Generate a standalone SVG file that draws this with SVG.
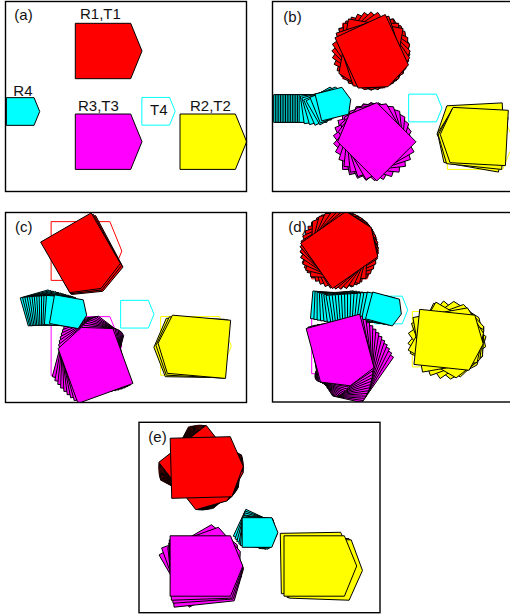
<svg xmlns="http://www.w3.org/2000/svg" xmlns:xlink="http://www.w3.org/1999/xlink" width="510" height="615" viewBox="0 0 510 615">
<style>
.r{fill:#ff0000;stroke:#000;stroke-width:1}
.m{fill:#ff00ff;stroke:#000;stroke-width:1}
.y{fill:#ffff00;stroke:#000;stroke-width:1}
.c{fill:#00ffff;stroke:#000;stroke-width:1}
.tr{fill:none;stroke:#ff0000;stroke-width:1}
.tm{fill:none;stroke:#ff00ff;stroke-width:1}
.ty{fill:none;stroke:#ffff00;stroke-width:1}
.tc{fill:none;stroke:#00ffff;stroke-width:1}
.frame{fill:none;stroke:#000;stroke-width:1.4}
text{font-family:"Liberation Sans",Arial,Helvetica,sans-serif;font-size:15px;fill:#111}
</style>
<defs>
<polygon id="P" points="-27.7,-27.7 27.7,-27.7 39,0 27.7,27.7 -27.7,27.7" vector-effect="non-scaling-stroke"/>
<polygon id="H" points="-13.85,-13.85 13.85,-13.85 19.5,0 13.85,13.85 -13.85,13.85" vector-effect="non-scaling-stroke"/>
<clipPath id="cb"><rect x="272.5" y="1.5" width="240" height="190"/></clipPath>
<clipPath id="cc"><rect x="5.5" y="212.5" width="241" height="190"/></clipPath>
<clipPath id="cd"><rect x="272.5" y="212.5" width="240" height="189.5"/></clipPath>
<clipPath id="ce"><rect x="139" y="422.3" width="241" height="190.4"/></clipPath>
</defs>

<!-- Panel (a) -->
<g id="panel-a">
<g id="a-R1"><use href="#P" class="r" transform="translate(103 51)"/></g>
<g id="a-R3"><use href="#P" class="m" transform="translate(103 141.7)"/></g>
<g id="a-R2"><use href="#P" class="y" transform="translate(207.7 141.7)"/></g>
<g id="a-R4"><use href="#H" class="c" transform="translate(20.2 111.5)"/></g>
<g id="a-T4"><use href="#H" class="tc" transform="translate(155.7 111.3)"/></g>
<rect class="frame" x="5.5" y="1.5" width="241" height="190"/>
<text x="14.3" y="20">(a)</text>
<text x="80" y="19.3">R1,T1</text>
<text x="13.3" y="96">R4</text>
<text x="78" y="111">R3,T3</text>
<text x="150" y="114.5">T4</text>
<text x="190" y="111">R2,T2</text>
</g>

<!-- Panel (b) -->
<g id="panel-b">
<g clip-path="url(#cb)">
<g id="b-targets">
<use href="#P" class="tr" transform="translate(370.3 51)"/>
<use href="#P" class="tm" transform="translate(370.3 141.7)"/>
<use href="#P" class="ty" transform="translate(475 141.7)"/>
<use href="#H" class="tc" transform="translate(422.5 108)"/>
</g>
<g id="b-R1">
<use href="#P" class="r" transform="translate(371 51) rotate(-10)"/>
<use href="#P" class="r" transform="translate(371 51) rotate(5)"/>
<use href="#P" class="r" transform="translate(371 51) rotate(15)"/>
<use href="#P" class="r" transform="translate(371 51) rotate(25)"/>
<use href="#P" class="r" transform="translate(371 51) rotate(35)"/>
<use href="#P" class="r" transform="translate(371 51) rotate(45)"/>
<use href="#P" class="r" transform="translate(371 51) rotate(55)"/>
<use href="#P" class="r" transform="translate(371 51) rotate(80)"/>
<use href="#P" class="r" transform="translate(371 51) rotate(90)"/>
<use href="#P" class="r" transform="translate(371 51) rotate(100)"/>
<use href="#P" class="r" transform="translate(371 51) rotate(72)"/>
<use href="#P" class="r" transform="translate(371.7 51.3) rotate(65.3)"/>
</g>
<g id="b-R2">
<use href="#P" class="y" transform="translate(476 132) rotate(177)"/>
<use href="#P" class="y" transform="translate(476 140) rotate(190)"/>
<use href="#P" class="y" transform="translate(477 139) rotate(186)"/>
<use href="#P" class="y" transform="translate(479.2 136.5) rotate(183)"/>
</g>
<g id="b-R3">
<use href="#P" class="m" transform="translate(370.3 141.7) rotate(0)"/>
<use href="#P" class="m" transform="translate(370.9 141.7) rotate(-12)"/>
<use href="#P" class="m" transform="translate(371.5 141.7) rotate(-24)"/>
<use href="#P" class="m" transform="translate(372.1 141.7) rotate(-36)"/>
<use href="#P" class="m" transform="translate(372.7 141.7) rotate(-48)"/>
<use href="#P" class="m" transform="translate(373.3 141.7) rotate(-60)"/>
<use href="#P" class="m" transform="translate(373.8 141.7) rotate(-72)"/>
<use href="#P" class="m" transform="translate(374.4 141.7) rotate(-84)"/>
<use href="#P" class="m" transform="translate(375 141.7) rotate(-96)"/>
<use href="#P" class="m" transform="translate(375.6 141.7) rotate(-108)"/>
<use href="#P" class="m" transform="translate(376.2 141.7) rotate(-120)"/>
<use href="#P" class="m" transform="translate(376.8 141.8) rotate(-135)"/>
</g>
<g id="b-R4">
<use href="#H" class="c" transform="translate(287.5 108.5)"/>
<use href="#H" class="c" transform="translate(289.2 108.5)"/>
<use href="#H" class="c" transform="translate(290.9 108.5)"/>
<use href="#H" class="c" transform="translate(292.6 108.5)"/>
<use href="#H" class="c" transform="translate(294.3 108.5)"/>
<use href="#H" class="c" transform="translate(296 108.5)"/>
<use href="#H" class="c" transform="translate(297.7 108.5)"/>
<use href="#H" class="c" transform="translate(299.4 108.5)"/>
<use href="#H" class="c" transform="translate(301.1 108.5)"/>
<use href="#H" class="c" transform="translate(302.8 108.5)"/>
<use href="#H" class="c" transform="translate(304.5 108.5)"/>
<use href="#H" class="c" transform="translate(306.2 108.5)"/>
<use href="#H" class="c" transform="translate(307.9 108.5)"/>
<use href="#H" class="c" transform="translate(309.6 108.5)"/>
<use href="#H" class="c" transform="translate(311.3 108.5)"/>
<use href="#H" class="c" transform="translate(313 108.5)"/>
<use href="#H" class="c" transform="translate(316 108) rotate(-8)"/>
<use href="#H" class="c" transform="translate(319 107.5) rotate(-16)"/>
<use href="#H" class="c" transform="translate(322 107) rotate(-24)"/>
<use href="#H" class="c" transform="translate(325 106) rotate(-30)"/>
<use href="#H" class="c" transform="translate(328 105) rotate(-22)"/>
<use href="#H" class="c" transform="translate(331.8 104.1) rotate(-14)"/>
</g>
</g>
<rect class="frame" x="272.5" y="1.5" width="245" height="190"/>
<text x="283.3" y="21.7">(b)</text>
</g>

<!-- Panel (c) -->
<g id="panel-c">
<g clip-path="url(#cc)">
<g id="c-targets">
<use href="#P" class="tr" transform="translate(80.5 251) scale(1.06)"/>
<use href="#P" class="tm" transform="translate(80.5 346) scale(1.06)"/>
<use href="#P" class="ty" transform="translate(190 345.9) scale(1.06)"/>
<use href="#H" class="tc" transform="translate(134.5 314.2)"/>
</g>
<g id="c-R1">
<use href="#P" class="r" transform="translate(83.5 255) rotate(62) scale(1.054)"/>
<use href="#P" class="r" transform="translate(82 254) rotate(61) scale(1.054)"/>
<use href="#P" class="r" transform="translate(80.5 252.8) rotate(60) scale(1.054)"/>
</g>
<g id="c-R2">
<use href="#P" class="y" transform="translate(195 348) rotate(181) scale(1.054)"/>
<use href="#P" class="y" transform="translate(197 347.5) rotate(183) scale(1.054)"/>
<use href="#P" class="y" transform="translate(199 346.8) rotate(185) scale(1.054)"/>
</g>
<g id="c-R3">
<use href="#P" class="m" transform="translate(88 356) rotate(-75) scale(1.054)"/>
<use href="#P" class="m" transform="translate(88.9 357.3) rotate(-79.4) scale(1.054)"/>
<use href="#P" class="m" transform="translate(89.9 358.5) rotate(-83.8) scale(1.054)"/>
<use href="#P" class="m" transform="translate(90.8 359.8) rotate(-88.1) scale(1.054)"/>
<use href="#P" class="m" transform="translate(91.8 361) rotate(-92.5) scale(1.054)"/>
<use href="#P" class="m" transform="translate(92.7 362.3) rotate(-96.9) scale(1.054)"/>
<use href="#P" class="m" transform="translate(93.6 363.5) rotate(-101.3) scale(1.054)"/>
<use href="#P" class="m" transform="translate(94.6 364.8) rotate(-105.6) scale(1.054)"/>
<use href="#P" class="m" transform="translate(95.5 366) rotate(-110) scale(1.054)"/>
</g>
<g id="c-R4">
<use href="#H" class="c" transform="translate(38.3 307.9) rotate(-16) scale(1.054)"/>
<use href="#H" class="c" transform="translate(40.3 308.2) rotate(-14.2) scale(1.054)"/>
<use href="#H" class="c" transform="translate(42.2 308.5) rotate(-12.4) scale(1.054)"/>
<use href="#H" class="c" transform="translate(44.2 308.7) rotate(-10.5) scale(1.054)"/>
<use href="#H" class="c" transform="translate(46.2 309) rotate(-8.7) scale(1.054)"/>
<use href="#H" class="c" transform="translate(48.2 309.3) rotate(-6.9) scale(1.054)"/>
<use href="#H" class="c" transform="translate(50.1 309.6) rotate(-5.1) scale(1.054)"/>
<use href="#H" class="c" transform="translate(52.1 309.9) rotate(-3.3) scale(1.054)"/>
<use href="#H" class="c" transform="translate(54.1 310.2) rotate(-1.5) scale(1.054)"/>
<use href="#H" class="c" transform="translate(56.1 310.4) rotate(0.4) scale(1.054)"/>
<use href="#H" class="c" transform="translate(58 310.7) rotate(2.2) scale(1.054)"/>
<use href="#H" class="c" transform="translate(60 311) rotate(4) scale(1.054)"/>
<use href="#H" class="c" transform="translate(66.4 311.7) rotate(10) scale(1.054)"/>
</g>
</g>
<rect class="frame" x="5.5" y="212.5" width="241" height="190"/>
<text x="15" y="231.7">(c)</text>
</g>

<!-- Panel (d) -->
<g id="panel-d">
<g clip-path="url(#cd)">
<g id="d-targets">
<use href="#P" class="tr" transform="translate(339.4 251.2)"/>
<use href="#P" class="tm" transform="translate(339.4 346)"/>
<use href="#P" class="ty" transform="translate(440 339.2)"/>
<use href="#H" class="tc" transform="translate(388.3 310)"/>
</g>
<g id="d-R1">
<use href="#P" class="r" transform="translate(339.2 250) rotate(0)"/>
<use href="#P" class="r" transform="translate(339.2 250) rotate(-8)"/>
<use href="#P" class="r" transform="translate(339.2 250) rotate(-16)"/>
<use href="#P" class="r" transform="translate(339.2 250) rotate(-24)"/>
<use href="#P" class="r" transform="translate(339.2 250) rotate(-32)"/>
<use href="#P" class="r" transform="translate(339.2 250) rotate(-40)"/>
<use href="#P" class="r" transform="translate(339.2 250) rotate(-48)"/>
<use href="#P" class="r" transform="translate(339.2 250) rotate(-56)"/>
<use href="#P" class="r" transform="translate(339.2 250) rotate(-64)"/>
<use href="#P" class="r" transform="translate(339.2 250) rotate(-72)"/>
<use href="#P" class="r" transform="translate(339.2 250) rotate(-80)"/>
<use href="#P" class="r" transform="translate(339.2 250) rotate(-88)"/>
<use href="#P" class="r" transform="translate(339.2 250) rotate(-76)"/>
<use href="#P" class="r" transform="translate(339.2 250) rotate(-66)"/>
<use href="#P" class="r" transform="translate(339.2 250) rotate(-56)"/>
<use href="#P" class="r" transform="translate(339.2 250) rotate(-47)"/>
<use href="#P" class="r" transform="translate(339.2 250) rotate(-40)"/>
<use href="#P" class="r" transform="translate(339.2 250) rotate(-35)"/>
</g>
<g id="d-R2">
<use href="#P" class="y" transform="translate(447 340) rotate(40)"/>
<use href="#P" class="y" transform="translate(447 340) rotate(-35)"/>
<use href="#P" class="y" transform="translate(447 340) rotate(25)"/>
<use href="#P" class="y" transform="translate(447 340) rotate(-20)"/>
<use href="#P" class="y" transform="translate(446 340) rotate(30)"/>
<use href="#P" class="y" transform="translate(445 340) rotate(-10)"/>
<use href="#P" class="y" transform="translate(444.4 339.8) rotate(6)"/>
</g>
<g id="d-R4">
<use href="#H" class="c" transform="translate(325.5 306) rotate(5)"/>
<use href="#H" class="c" transform="translate(328.3 306.1) rotate(2.5)"/>
<use href="#H" class="c" transform="translate(331 306.3) rotate(0)"/>
<use href="#H" class="c" transform="translate(333.8 306.4) rotate(-2.5)"/>
<use href="#H" class="c" transform="translate(336.6 306.5) rotate(-5)"/>
<use href="#H" class="c" transform="translate(339.3 306.7) rotate(-7.5)"/>
<use href="#H" class="c" transform="translate(342.1 306.8) rotate(-10)"/>
<use href="#H" class="c" transform="translate(344.8 306.9) rotate(-8.6)"/>
<use href="#H" class="c" transform="translate(347.6 307.1) rotate(-7.1)"/>
<use href="#H" class="c" transform="translate(350.4 307.2) rotate(-5.7)"/>
<use href="#H" class="c" transform="translate(353.1 307.3) rotate(-4.3)"/>
<use href="#H" class="c" transform="translate(355.9 307.4) rotate(-2.9)"/>
<use href="#H" class="c" transform="translate(358.7 307.6) rotate(-1.4)"/>
<use href="#H" class="c" transform="translate(361.4 307.7) rotate(0)"/>
<use href="#H" class="c" transform="translate(364.2 307.8) rotate(2)"/>
<use href="#H" class="c" transform="translate(366.9 308) rotate(4)"/>
<use href="#H" class="c" transform="translate(369.7 308.1) rotate(6)"/>
<use href="#H" class="c" transform="translate(372.5 308.2) rotate(8)"/>
<use href="#H" class="c" transform="translate(375.2 308.4) rotate(10)"/>
<use href="#H" class="c" transform="translate(378 308.5) rotate(12)"/>
<use href="#H" class="c" transform="translate(382.5 309) rotate(15)"/>
</g>
<g id="d-R3">
<use href="#P" class="m" transform="translate(355 364) rotate(125)"/>
<use href="#P" class="m" transform="translate(353.7 362.6) rotate(120.8)"/>
<use href="#P" class="m" transform="translate(352.4 361.2) rotate(116.5)"/>
<use href="#P" class="m" transform="translate(351.1 359.9) rotate(112.3)"/>
<use href="#P" class="m" transform="translate(349.8 358.5) rotate(108.1)"/>
<use href="#P" class="m" transform="translate(348.5 357.1) rotate(103.9)"/>
<use href="#P" class="m" transform="translate(347.1 355.7) rotate(99.6)"/>
<use href="#P" class="m" transform="translate(345.8 354.3) rotate(95.4)"/>
<use href="#P" class="m" transform="translate(344.5 352.9) rotate(91.2)"/>
<use href="#P" class="m" transform="translate(343.2 351.6) rotate(87)"/>
<use href="#P" class="m" transform="translate(341.9 350.2) rotate(82.7)"/>
<use href="#P" class="m" transform="translate(340.6 348.8) rotate(78.5)"/>
<use href="#P" class="m" transform="translate(340.1 348.1) rotate(75)"/>
</g>
</g>
<rect class="frame" x="272.5" y="212.5" width="245" height="189.5"/>
<text x="288.3" y="231.7">(d)</text>
</g>

<!-- Panel (e) -->
<g id="panel-e">
<g clip-path="url(#ce)">
<g id="e-R1">
<use href="#P" class="r" transform="translate(201 467.5) rotate(28) scale(1.085)"/>
<use href="#P" class="r" transform="translate(201 467.5) rotate(29.5) scale(1.085)"/>
<use href="#P" class="r" transform="translate(201 467.5) rotate(31) scale(1.085)"/>
<use href="#P" class="r" transform="translate(201 467.5) rotate(32.5) scale(1.085)"/>
<use href="#P" class="r" transform="translate(201 467.5) rotate(34) scale(1.085)"/>
<use href="#P" class="r" transform="translate(201 467.5) rotate(35.5) scale(1.085)"/>
<use href="#P" class="r" transform="translate(201 467.5) rotate(37) scale(1.085)"/>
<use href="#P" class="r" transform="translate(201 467.5) rotate(38.5) scale(1.085)"/>
<use href="#P" class="r" transform="translate(201 467.5) rotate(40) scale(1.085)"/>
<use href="#P" class="r" transform="translate(201 467.5) rotate(41.5) scale(1.085)"/>
<use href="#P" class="r" transform="translate(201 467.5) rotate(43) scale(1.085)"/>
<use href="#P" class="r" transform="translate(201 467.5) rotate(44.5) scale(1.085)"/>
<use href="#P" class="r" transform="translate(201 467.5) rotate(46) scale(1.085)"/>
<use href="#P" class="r" transform="translate(201 467.5) rotate(47.5) scale(1.085)"/>
<use href="#P" class="r" transform="translate(201 467.5) rotate(49) scale(1.085)"/>
<use href="#P" class="r" transform="translate(201 467.5) rotate(50.5) scale(1.085)"/>
<use href="#P" class="r" transform="translate(201 467.5) rotate(52) scale(1.085)"/>
<use href="#P" class="r" transform="translate(201 467.5) rotate(-1.5) scale(1.085)"/>
</g>
<g id="e-R2">
<use href="#P" class="y" transform="translate(311 563) rotate(-1) scale(1.09)"/>
<use href="#P" class="y" transform="translate(318 568) rotate(1.5) scale(1.09)"/>
<use href="#P" class="y" transform="translate(320 569) rotate(2) scale(1.09)"/>
<use href="#P" class="y" transform="translate(314.2 566) scale(1.09)"/>
</g>
<g id="e-R3">
<use href="#P" class="m" transform="translate(200.3 566) rotate(-30) scale(1.09)"/>
<use href="#P" class="m" transform="translate(200.3 566) rotate(-20) scale(1.09)"/>
<use href="#P" class="m" transform="translate(201 574) rotate(-6) scale(1.09)"/>
<use href="#P" class="m" transform="translate(201 571) rotate(-4) scale(1.09)"/>
<use href="#P" class="m" transform="translate(200.5 569) rotate(-2) scale(1.09)"/>
<use href="#P" class="m" transform="translate(200.3 566) scale(1.09)"/>
</g>
<g id="e-R4">
<use href="#H" class="c" transform="translate(253 529) rotate(25) scale(1.07)"/>
<use href="#H" class="c" transform="translate(254 530) rotate(20) scale(1.07)"/>
<use href="#H" class="c" transform="translate(255 531) rotate(15) scale(1.07)"/>
<use href="#H" class="c" transform="translate(256 532) rotate(10) scale(1.07)"/>
<use href="#H" class="c" transform="translate(256.5 532) rotate(5) scale(1.07)"/>
<use href="#H" class="c" transform="translate(257 532.5) scale(1.07)"/>
</g>
</g>
<rect class="frame" x="139" y="422.3" width="241" height="190.4"/>
<text x="148.3" y="441.7">(e)</text>
</g>
</svg>
